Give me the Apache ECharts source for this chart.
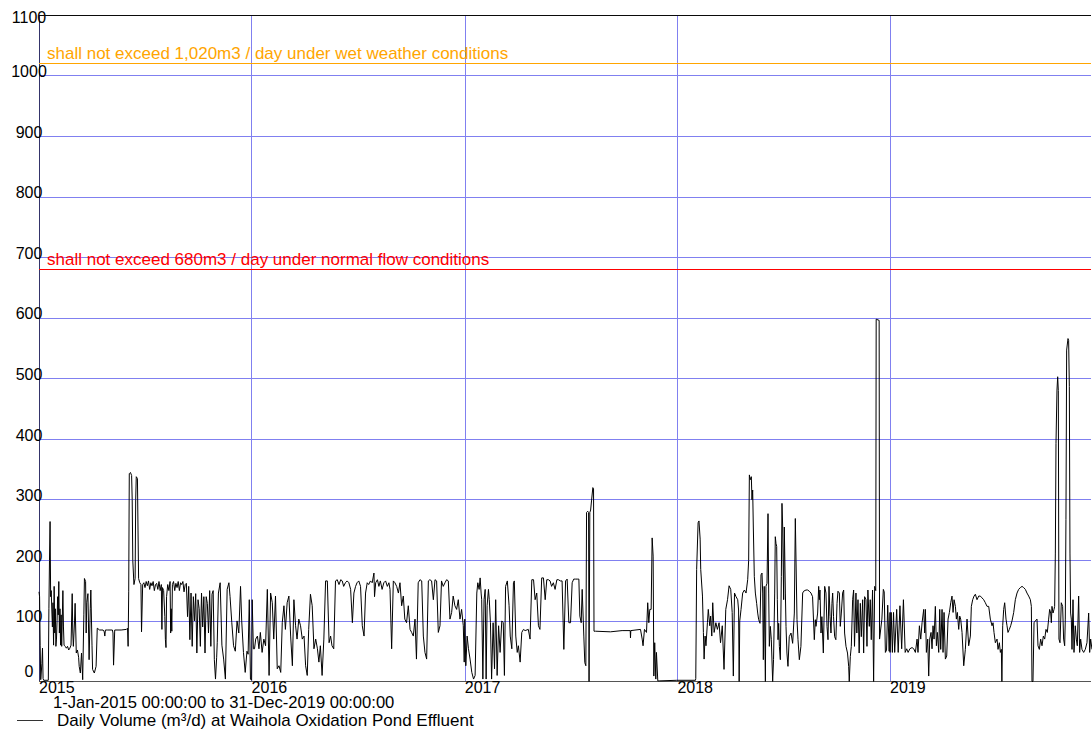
<!DOCTYPE html>
<html>
<head>
<meta charset="utf-8">
<script src="https://cdn.jsdelivr.net/npm/echarts@6/dist/echarts.min.js"></script>
<style>
html,body{margin:0;padding:0;background:#fff;}
#chart{width:1092px;height:729px;}
#chart svg path{shape-rendering:crispEdges;}
#chart svg path[stroke="#000"], #chart svg path[stroke="#000000"], #chart svg path[stroke="rgb(0,0,0)"], #chart svg path[stroke="black"]{shape-rendering:auto;}
</style>
</head>
<body>
<div id="chart"></div>
<script>
// [day of year, daily volume m3/d]
var d2015 = [[0,148],[1,140],[2,60],[3,3],[5,30],[6,55],[7,5],[8,2],[16,2],[17,120],[18,200],[19,264],[20,140],[21,150],[22,118],[23,90],[24,130],[25,60],[26,157],[27,80],[28,120],[29,58],[30,70],[31,100],[32,140],[33,110],[34,165],[35,80],[36,120],[37,60],[38,110],[39,58],[41,150],[42,90],[43,60],[45,58],[47,55],[49,58],[51,52],[53,55],[55,60],[57,145],[58,80],[59,58],[61,100],[62,129],[64,47],[66,52],[68,40],[69,25],[71,14],[73,47],[75,3],[77,110],[78,170],[80,165],[81,80],[82,130],[84,145],[86,36],[88,120],[89,151],[91,60],[92,20],[95,14],[98,25],[100,88],[104,85],[110,85],[112,82],[113,75],[114,85],[118,85],[126,85],[127,80],[128,27],[129,27],[130,85],[141,85],[150,86],[152,88],[153,58],[154,148],[155,343],[157,345],[159,340],[160,300],[161,200],[163,160],[165,170],[166,300],[167,338],[169,335],[170,250],[171,170],[173,163],[175,160],[176,82],[177,82],[178,160],[180,163],[182,155],[184,165],[186,158],[188,166],[190,152],[192,163],[194,158],[196,165],[198,150],[200,160],[202,162],[204,152],[206,165],[208,150],[210,160],[211,86],[212,155],[214,150],[216,107],[217,69],[218,56],[219,140],[221,160],[223,150],[225,165],[226,80],[227,120],[228,83],[229,160],[231,165],[233,150],[235,162],[237,155],[239,165],[241,150],[243,163],[245,160],[247,165],[249,148],[251,160],[253,162],[255,107],[257,157],[259,69],[261,146],[263,58],[265,140],[267,100],[269,145],[271,47],[273,135],[275,120],[277,58],[279,146],[281,90],[283,140],[285,47],[287,140],[289,129],[291,80],[293,150],[295,58],[297,144],[299,150],[301,36],[303,4],[305,40],[306,64],[308,146],[311,163],[314,60],[317,37],[320,4],[323,152],[326,163],[328,140],[331,97],[334,59],[337,50],[340,100],[343,80],[346,157],[348,100],[351,48],[354,15],[357,50],[359,45],[361,135],[363,4],[365,2]];
var d2016 = [[0,2],[1,135],[3,54],[5,54],[7,70],[10,75],[12.6,54],[15,81],[18,48],[21,70],[24,59],[27,152],[30,10],[32.6,146],[35.5,130],[38,70],[41,141],[44,21],[47,26],[50,15],[52.6,97],[55.5,125],[58,86],[61,130],[64,141],[67,75],[70,26],[72.6,135],[75.5,92],[78,70],[81,103],[84,92],[87,70],[90,75],[92.7,26],[95.5,10],[98,86],[101,144],[104,125],[107,54],[110,70],[113,54],[115.5,32],[118,59],[121,10],[124,70],[127,166],[130,166],[133,64],[135.6,75],[138,59],[141,54],[144,166],[147,168],[150,160],[153,168],[155.6,166],[158,157],[161,163],[164,166],[167,163],[170,152],[173,97],[175.6,146],[178.5,157],[181,163],[184,166],[187,157],[190,92],[193,75],[195.6,146],[198.5,163],[201,160],[204,166],[207,163],[210,179],[211,140],[213,163],[216,168],[218.5,157],[221,166],[224,152],[227,163],[230,166],[233,157],[235.7,163],[237.6,152],[240.4,54],[243.3,166],[246,163],[249,157],[252,146],[254.7,163],[257.6,125],[260.4,141],[263,103],[266,97],[269,125],[272,86],[274.7,81],[277.6,75],[280.5,103],[283,37],[286,163],[289,168],[292,166],[294.8,75],[297.6,48],[300.5,37],[303.4,166],[306,168],[309,166],[312,135],[314.8,168],[317.6,166],[320.5,81],[323.4,92],[326,166],[329,157],[332,163],[334.8,168],[337.7,166],[340.5,103],[343.4,114],[346,141],[349,125],[352,119],[354.8,135],[357.7,103],[360.5,119],[363.4,92],[365,32]];
var d2017 = [[0,103],[1.7,26],[4,75],[6.3,54],[9,37],[12,15],[15,4],[17.7,10],[20.6,146],[22.3,163],[24.6,152],[26.3,171],[28,146],[29,135],[31,4],[33,135],[35,152],[36.6,4],[38.3,125],[40.6,152],[42,135],[44,97],[46,4],[48.6,97],[51,21],[53,135],[55.5,10],[58,92],[60.6,48],[63.5,100],[66,97],[68,10],[70,157],[73,166],[76,125],[78,75],[80.7,54],[83.5,163],[85,166],[87.5,75],[90,48],[92,59],[95,32],[97.8,81],[100.7,86],[103.5,84],[109,86],[112,70],[115,168],[118,168],[120.7,135],[123.5,146],[126.4,92],[129,86],[132,171],[135,171],[138,135],[140.7,168],[143.6,168],[146.4,166],[149,157],[152,163],[155,152],[158,168],[160.7,168],[164,166],[167,166],[170,53],[173,166],[175.7,169],[178.6,97],[181.5,97],[184.3,163],[187,169],[190,169],[193,169],[195.8,169],[197.5,108],[199.8,97],[201.5,152],[204.3,75],[206,31],[207.8,26],[209,279],[211,281],[212.5,279],[213.3,0],[214,0],[214.6,279],[216,283],[217.5,298],[219.8,320],[221,318],[221.8,83],[224.4,83],[250,82],[270,84],[284,84],[284.4,72],[285,84],[301.6,86],[304.5,70],[306,59],[308.4,86],[311.9,81],[314,130],[315.9,97],[317.6,119],[319.9,119],[321.6,237],[323.3,207],[324.5,9],[326,64],[327.9,4],[329,48],[331.3,1],[333.6,1],[364,2]];
var d2018 = [[0,2],[31,2],[31.5,5],[33,185],[35.5,262],[37,265],[39,235],[40,185],[43,141],[44.6,81],[45.8,37],[47.5,75],[49,59],[51.5,97],[53,119],[55.5,92],[57,108],[59,75],[60.6,130],[63,81],[66,97],[68.6,86],[71.5,97],[74,64],[77,92],[80,20],[83,119],[86,135],[88.7,158],[91.5,152],[94,114],[96,9],[98,146],[100.6,140],[103.5,135],[105,118],[106,0],[107,100],[109.2,119],[112,146],[115,151],[117.8,146],[120.6,168],[122.3,200],[123.5,341],[125,333],[126.9,338],[128,300],[129.2,316],[130.3,255],[132,173],[133.8,146],[136,129],[137.8,113],[139.5,102],[141.8,96],[143.5,176],[145.2,179],[146.4,146],[147.5,36],[149,157],[151,0],[152,157],[153.8,162],[155.5,277],[156.7,146],[157.8,58],[159.5,91],[161.2,69],[163.5,0],[165,36],[167,146],[168,239],[169.2,228],[170.4,223],[171.5,135],[172.7,69],[173.8,96],[175,58],[176.7,36],[178.4,173],[179.5,294],[180.7,255],[182.4,135],[183.5,255],[185.3,146],[186.4,91],[188,47],[189.8,25],[192,74],[195,80],[197.8,63],[200.7,113],[202.4,269],[203.6,200],[205.3,102],[207,69],[209.3,36],[212,58],[215,146],[216.7,149],[220.7,151],[223.6,151],[226.4,149],[229.3,146],[232,140],[235,69],[236.7,102],[237.9,91],[240.7,113],[242.5,157],[243.6,135],[244.7,151],[246.5,80],[248,107],[250.5,47],[252.8,157],[255,146],[256.8,91],[258.5,69],[260.2,157],[262,107],[263.6,80],[265.3,129],[266.5,146],[268,107],[269.9,74],[272,69],[274,129],[275.6,149],[278,146],[279.6,91],[281.4,113],[283.6,146],[285.4,151],[287,80],[289.4,58],[292,47],[294,25],[295,0],[296.8,41],[298.5,58],[300.8,135],[302.5,151],[304,58],[306.5,146],[308,80],[310,135],[312,47],[314,129],[315.7,74],[318,135],[319.7,47],[321.4,140],[323.7,135],[325.4,58],[327,151],[329.4,91],[331,135],[332.8,69],[335,151],[336.8,0],[338.6,157],[340.5,150],[341.2,598],[346.3,596],[347,70],[348,70],[351,103],[353.5,152],[355,148],[357,48],[359,52],[361,126],[363.5,50],[365,114]];
var d2019 = [[0,48],[2,114],[4,48],[6,114],[8,48],[11.4,119],[14,48],[17,125],[20,54],[23,135],[26,48],[28.6,54],[31,48],[34,54],[37.8,56],[40.7,54],[43.5,48],[46.4,70],[48,48],[50.4,92],[52.7,70],[55,97],[57.8,119],[59.5,80],[60.7,119],[62.4,48],[64.7,70],[66.4,9],[68.1,70],[70.4,81],[72.1,54],[73.8,92],[75.6,70],[77.8,124],[79.6,59],[81.3,81],[83.6,48],[85.3,119],[87,53],[89.3,119],[91,48],[92.7,114],[95,37],[97.3,42],[99.6,103],[101.9,114],[104.2,130],[106.4,141],[108.2,114],[109.9,135],[112.2,124],[113.9,103],[115.6,114],[117.9,86],[119.6,108],[121.3,103],[123.6,81],[126.5,26],[129.3,53],[132.2,103],[135,59],[137.9,75],[139.6,124],[141.9,135],[144.2,141],[146.5,144],[149.3,135],[152.2,141],[155,141],[157.9,138],[160.8,135],[163.6,130],[166.5,124],[169.4,124],[172.2,103],[175.1,92],[176.8,97],[178.5,81],[180.8,64],[183.7,70],[185.4,53],[187.7,64],[189.4,48],[191.1,53],[192,0],[192.6,0],[193.4,92],[195.1,119],[196.8,130],[199.1,103],[200.8,92],[202.5,81],[204.8,86],[207.1,92],[209.4,100],[212.3,114],[215.1,135],[218,146],[220.8,152],[223.7,155],[226.6,157],[229.4,155],[232.3,152],[235.1,146],[238,141],[240.9,135],[242.6,124],[243.7,0],[245.4,0],[247.2,97],[249.4,100],[252.3,103],[254,59],[256.3,53],[258.6,70],[260.9,59],[263.2,75],[265.5,70],[267.7,86],[270,81],[272.3,103],[274,119],[275.8,113],[276.9,97],[278,124],[279.8,113],[281.5,119],[282.6,124],[283.8,212],[284.9,393],[286.6,481],[287.8,503],[288.9,480],[290,70],[291.8,64],[294,130],[296.3,124],[298,70],[299.8,59],[300.9,103],[302,267],[303.2,547],[304.4,547],[305.5,566],[306.6,563],[307.8,487],[308.9,212],[310,113],[311.2,103],[312.4,53],[314.1,135],[315.8,48],[318,92],[319.8,70],[321.5,59],[323.8,141],[325.5,48],[327.2,70],[329.5,53],[332.4,48],[335.2,53],[338.1,64],[341,113],[342.7,48],[344.4,70],[346.7,53]];
var years = [2015, 2016, 2017, 2018, 2019];
var yearData = [d2015, d2016, d2017, d2018, d2019];
var limitWet = 1020, limitNormal = 680;
var labelWet = 'shall not exceed 1,020m3 / day under wet weather conditions';
var labelNormal = 'shall not exceed 680m3 / day under normal flow conditions';
var seriesName = 'Daily Volume (m\u00b3/d) at Waihola Oxidation Pond Effluent';
var caption = '1-Jan-2015 00:00:00 to 31-Dec-2019 00:00:00';

var DAY = 86400000;
var series = [];
years.forEach(function (y, i) {
  var t0 = new Date(y, 0, 1).getTime();
  yearData[i].forEach(function (p) { series.push([t0 + p[0] * DAY, p[1]]); });
});
var xMin = new Date(2015, 0, 1).getTime();
var xMax = new Date(2019, 11, 12).getTime();
var FONT = 'Liberation Sans, Arial, sans-serif';
var GRID = '#8080f0';

function limitSeries(name, value, color, text) {
  return {
    name: name, type: 'line', data: [], xAxisIndex: 0, yAxisIndex: 0,
    itemStyle: {color: color}, lineStyle: {color: color},
    markLine: {
      silent: true, symbol: ['none', 'none'],
      lineStyle: {color: color, width: 1, type: 'solid', opacity: 1},
      label: {show: true, formatter: text, position: 'insideStartTop', distance: [8, 2],
              color: color, fontFamily: FONT, fontSize: 17},
      data: [{yAxis: value}]
    }
  };
}

var chart = echarts.init(document.getElementById('chart'), null, {renderer: 'svg'});
chart.setOption({
  animation: false,
  backgroundColor: '#fff',
  title: {
    text: caption, left: 53, top: 696, padding: 0,
    textStyle: {fontFamily: FONT, fontSize: 16.6, lineHeight: 13, fontWeight: 'normal', color: '#000'}
  },
  legend: {
    data: [seriesName], left: 17, top: 712, padding: 0, icon: 'rect', itemWidth: 26, itemHeight: 1,
    itemStyle: {color: '#333'},
    textStyle: {fontFamily: FONT, fontSize: 17, lineHeight: 15, color: '#000', padding: [0, 0, 0, 9]}
  },
  grid: {left: 39, right: 1, top: 15.03, bottom: 47.5},
  xAxis: [{
    type: 'time', min: xMin, max: xMax, splitNumber: 5,
    minInterval: 365 * DAY,
    axisLine: {show: true, lineStyle: {color: '#555', width: 1}},
    axisTick: {show: false},
    splitLine: {show: true, showMaxLine: false, lineStyle: {color: GRID, width: 1}},
    axisLabel: {
      formatter: '{yyyy}', align: 'left', verticalAlign: 'top', margin: 0, lineHeight: 11,
      fontFamily: FONT, fontSize: 16, color: '#000', showMinLabel: true, hideOverlap: false
    }
  }, {
    type: 'time', min: xMin, max: xMax, position: 'top',
    axisLine: {show: true, lineStyle: {color: '#0a0a0a', width: 1}},
    axisTick: {show: false}, axisLabel: {show: false}, splitLine: {show: false}, z: 5
  }],
  yAxis: {
    type: 'value', min: 0, max: 1100, interval: 100,
    axisLine: {show: true, lineStyle: {color: '#34346a', width: 1}},
    axisTick: {show: false},
    splitLine: {show: true, lineStyle: {color: GRID, width: 1}},
    axisLabel: {
      align: 'center', verticalAlign: 'middle', margin: 10,
      formatter: function (v) {
        if (v === 0) return '{z|0}';
        if (v === 1100) return '{t|1100}';
        return '{n|' + v + '}';
      },
      rich: {
        n: {fontFamily: FONT, fontSize: 16, color: '#000', padding: [0, 0, 8, 0]},
        z: {fontFamily: FONT, fontSize: 16, color: '#000', padding: [0, 0, 20, 0]},
        t: {fontFamily: FONT, fontSize: 16, color: '#000', padding: [4, 0, 0, 0]}
      }
    }
  },
  series: [
    {
      name: seriesName, type: 'line', data: series, xAxisIndex: 0,
      showSymbol: false, symbol: 'none', sampling: null,
      lineStyle: {color: '#000', width: 1}, itemStyle: {color: '#000'}, z: 3
    },
    limitSeries('wet', limitWet, '#FFA500', labelWet),
    limitSeries('normal', limitNormal, '#FF0000', labelNormal)
  ]
});
</script>
</body>
</html>
